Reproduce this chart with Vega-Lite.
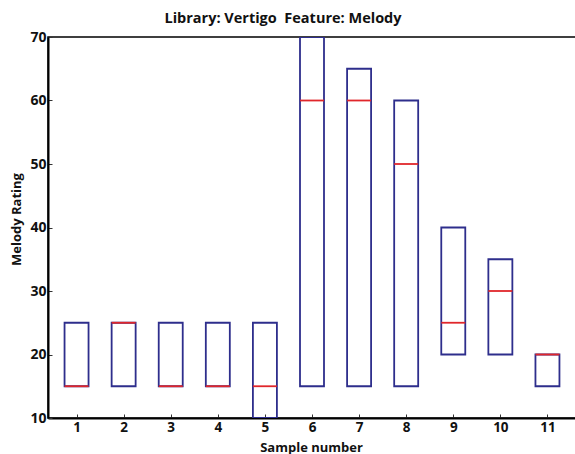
{
  "$schema": "https://vega.github.io/schema/vega-lite/v6.json",
  "width": 528,
  "height": 381,
  "autosize": {"type": "none"},
  "padding": {"left": 48, "top": 37, "right": 0, "bottom": 36},
  "background": "white",
  "title": {
    "text": "Library: Vertigo\u00a0 Feature: Melody",
    "font": "Open Sans",
    "fontWeight": "bold",
    "fontSize": 14.5,
    "color": "#111111",
    "anchor": "middle",
    "dx": -29,
    "offset": 4
  },
  "config": {
    "view": {"stroke": "black", "strokeWidth": 1.5},
    "axis": {
      "grid": false,
      "domainColor": "black",
      "domainWidth": 2,
      "tickColor": "#333333",
      "tickSize": -4,
      "tickWidth": 1,
      "labelFont": "Open Sans",
      "labelFontWeight": "bold",
      "labelFontSize": 14,
      "labelColor": "#111111",
      "titleFont": "Open Sans",
      "titleFontWeight": "bold",
      "titleFontSize": 13,
      "titleColor": "#111111"
    }
  },
  "data": {
    "values": [
      {"sample": 1, "q1": 15, "q3": 25, "median": 15},
      {"sample": 2, "q1": 15, "q3": 25, "median": 25},
      {"sample": 3, "q1": 15, "q3": 25, "median": 15},
      {"sample": 4, "q1": 15, "q3": 25, "median": 15},
      {"sample": 5, "q1": 10, "q3": 25, "median": 15},
      {"sample": 6, "q1": 15, "q3": 70, "median": 60},
      {"sample": 7, "q1": 15, "q3": 65, "median": 60},
      {"sample": 8, "q1": 15, "q3": 60, "median": 50},
      {"sample": 9, "q1": 20, "q3": 40, "median": 25},
      {"sample": 10, "q1": 20, "q3": 35, "median": 30},
      {"sample": 11, "q1": 15, "q3": 20, "median": 20}
    ]
  },
  "encoding": {
    "x": {
      "field": "sample",
      "type": "quantitative",
      "scale": {"domain": [0.5, 11.5], "nice": false, "zero": false},
      "axis": {
        "values": [1, 2, 3, 4, 5, 6, 7, 8, 9, 10, 11],
        "title": "Sample number",
        "labelFontSize": 13.5,
        "labelPadding": 17,
        "labelBaseline": "alphabetic",
        "titlePadding": 0,
        "titleX": 263,
        "titleY": 33,
        "titleBaseline": "alphabetic",
        "labelFlush": false
      }
    }
  },
  "layer": [
    {
      "mark": {"type": "bar", "size": 24, "fill": "white", "fillOpacity": 0, "stroke": "#2e2e8c", "strokeWidth": 1.8, "clip": true},
      "encoding": {
        "y": {
          "field": "q1",
          "type": "quantitative",
          "scale": {"domain": [10, 70], "nice": false, "zero": false},
          "axis": {
            "values": [10, 20, 30, 40, 50, 60, 70],
            "title": "Melody Rating",
            "labelPadding": 6,
            "titlePadding": 6,
            "titleY": 182,
            "titleX": -25,
            "labelFlush": false
          }
        },
        "y2": {"field": "q3"}
      }
    },
    {
      "mark": {"type": "tick", "orient": "horizontal", "size": 24, "thickness": 1.8, "color": "#e0262b", "opacity": 1, "clip": true},
      "encoding": {
        "y": {"field": "median", "type": "quantitative"}
      }
    }
  ]
}
